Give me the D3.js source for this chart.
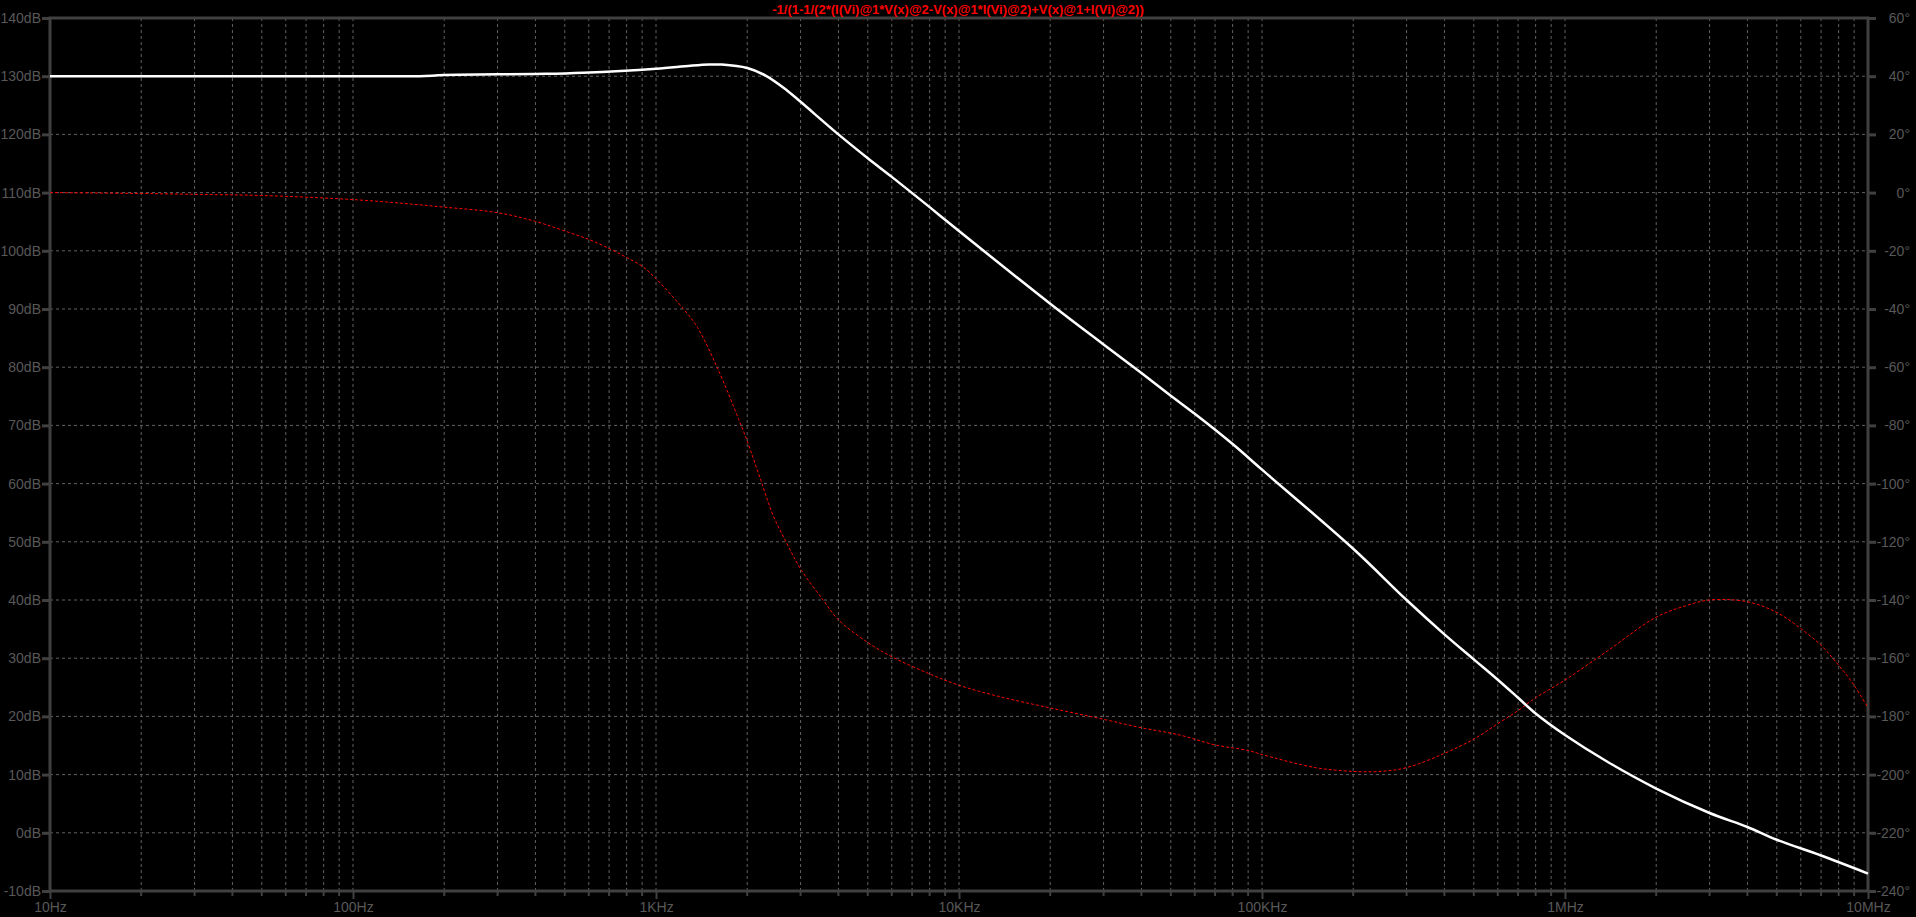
<!DOCTYPE html>
<html>
<head>
<meta charset="utf-8">
<script src="https://cdn.jsdelivr.net/npm/d3@7"></script>
<style>
  html, body { margin: 0; padding: 0; background: #000; overflow: hidden; }
  text { font-family: "Liberation Sans", Arial, sans-serif; }
</style>
</head>
<body>
<div id="bode"></div>
<script>
// trace title (LTspice expression)
var title = "-1/(1-1/(2*(I(Vi)@1*V(x)@2-V(x)@1*I(Vi)@2)+V(x)@1+I(Vi)@2))";

// magnitude trace
var magFreq = [10, 100, 166, 200, 430, 575, 1000, 1300, 1500, 1650, 2000, 2300, 2700, 3000,
  4000, 5000, 6000, 8000, 10000, 20000, 30000, 40000, 50000, 60000, 80000, 100000,
  200000, 300000, 400000, 500000, 600000, 700000, 800000, 1000000, 1380000, 2000000,
  3000000, 4000000, 5000000, 7000000, 10000000];
var magDb = [130, 130, 130, 130.2, 130.4, 130.6, 131.3, 131.8, 132.0, 132.0, 131.4, 130.1, 127.6, 125.6,
  120.0, 115.9, 112.7, 107.5, 103.4, 90.9, 83.9, 79.0, 75.1, 72.0, 66.8, 62.4,
  48.8, 40.0, 34.1, 29.8, 26.3, 23.2, 20.5, 16.8, 12.2, 7.6,
  3.4, 1.0, -1.2, -3.9, -7.0];

// phase trace
var phaseFreq = [10, 20, 30, 50, 100, 166, 200, 300, 400, 500, 600, 700, 800, 900, 1000,
  1230, 1370, 1600, 1870, 2000, 2220, 2430, 2700, 3000, 3560, 4000, 5000, 6000, 8000,
  10000, 13600, 20000, 30000, 40000, 53500, 70000, 90000, 100000, 150000, 200000, 245000,
  300000, 400000, 500000, 600000, 700000, 800000, 1000000, 1380000, 2000000, 2500000,
  3000000, 4000000, 5000000, 6000000, 7000000, 8000000, 9000000, 10000000];
var phaseDeg = [0, -0.3, -0.6, -1.0, -2.4, -4.2, -5.0, -6.9, -9.9, -13.2, -16.1, -19.2, -22.3, -25.3, -29.6,
  -39.9, -46.3, -60.6, -77.6, -85.4, -99, -110.7, -120.5, -129.3, -140, -146.8, -154.6, -159.5, -165.4,
  -169.3, -173.2, -177.1, -181, -183.9, -186.4, -189.8, -191.7, -193.1, -197.6, -198.9, -198.9,
  -197.6, -192.7, -187.8, -182.5, -178, -173.6, -167.5, -157.5, -145.9, -142,
  -140, -140.6, -144.3, -149.8, -155.6, -162.4, -169.3, -177.1];

// axis ticks
var dbTicks = [-10, 0, 10, 20, 30, 40, 50, 60, 70, 80, 90, 100, 110, 120, 130, 140];
var degTicks = [-240, -220, -200, -180, -160, -140, -120, -100, -80, -60, -40, -20, 0, 20, 40, 60];
var freqTicks = [10, 100, 1000, 10000, 100000, 1000000, 10000000];
var freqLabels = ["10Hz", "100Hz", "1KHz", "10KHz", "100KHz", "1MHz", "10MHz"];

var W = 1916, H = 917;
var margin = { top: 18, right: 48, bottom: 26, left: 50 };
var width = W - margin.left - margin.right,
    height = H - margin.top - margin.bottom;

var axisCol = "#404040", textCol = "#585858", gridCol = "#626262";

var svg = d3.select("#bode").append("svg")
  .attr("width", W).attr("height", H)
  .style("background", "#000")
  .style("display", "block");

var g = svg.append("g").attr("transform", "translate(" + margin.left + "," + margin.top + ")");

var x = d3.scaleLog().domain([10, 1e7]).range([0, width]);
var yDb = d3.scaleLinear().domain([-10, 140]).range([height, 0]);
var yDeg = d3.scaleLinear().domain([-240, 60]).range([height, 0]);

// minor freq lines 1..9 per decade
var minorFreqs = [];
freqTicks.forEach(function (f) {
  for (var k = 1; k < 10; k++) {
    if (f * k <= 1e7) minorFreqs.push(f * k);
  }
});

// vertical grid
g.append("g").selectAll("line")
  .data(minorFreqs.filter(function (f) { return f > 10 && f < 1e7; }))
  .enter().append("line")
  .attr("x1", function (d) { return x(d); }).attr("x2", function (d) { return x(d); })
  .attr("y1", 0).attr("y2", height)
  .attr("stroke", gridCol).attr("stroke-width", 1).attr("stroke-dasharray", "3,3");

// horizontal grid
g.append("g").selectAll("line")
  .data(dbTicks.filter(function (d) { return d > -10 && d < 140; }))
  .enter().append("line")
  .attr("x1", 0).attr("x2", width)
  .attr("y1", function (d) { return yDb(d); }).attr("y2", function (d) { return yDb(d); })
  .attr("stroke", gridCol).attr("stroke-width", 1).attr("stroke-dasharray", "3,3");

// left axis (dB)
var leftAxis = g.append("g")
  .call(d3.axisLeft(yDb).tickValues(dbTicks).tickSize(8).tickPadding(1)
    .tickFormat(function (d) { return d + "dB"; }));

// right axis (degrees)
var rightAxis = g.append("g").attr("transform", "translate(" + width + ",0)")
  .call(d3.axisRight(yDeg).tickValues(degTicks).tickSize(8).tickPadding(0)
    .tickFormat(function (d) { return d + "°"; }));

// bottom axis: decades labelled, minors as short stubs
var bottomAxis = g.append("g").attr("transform", "translate(0," + height + ")")
  .call(d3.axisBottom(x).tickValues(freqTicks).tickSize(8).tickPadding(3)
    .tickFormat(function (d, i) { return freqLabels[i]; }));

g.append("g").attr("transform", "translate(0," + height + ")")
  .selectAll("line")
  .data(minorFreqs.filter(function (f) { return freqTicks.indexOf(f) < 0; }))
  .enter().append("line")
  .attr("x1", function (d) { return x(d); }).attr("x2", function (d) { return x(d); })
  .attr("y1", 0).attr("y2", 5)
  .attr("stroke", axisCol).attr("stroke-width", 2);

[leftAxis, rightAxis, bottomAxis].forEach(function (a) {
  a.select(".domain").remove();
  a.selectAll(".tick line").attr("stroke", axisCol).attr("stroke-width", 3);
  a.selectAll(".tick text").attr("fill", textCol).style("font-size", "14px");
});
rightAxis.selectAll(".tick text").attr("text-anchor", "end").attr("x", 42);
bottomAxis.selectAll(".tick line").attr("stroke-width", 2);

// frame
g.append("rect")
  .attr("x", 0).attr("y", 0).attr("width", width).attr("height", height)
  .attr("fill", "none").attr("stroke", axisCol).attr("stroke-width", 3);

// phase trace (dotted red)
var phaseLine = d3.line()
  .x(function (d) { return x(d[0]); })
  .y(function (d) { return yDeg(d[1]); })
  .curve(d3.curveCatmullRom.alpha(0.5));

g.append("path")
  .datum(phaseFreq.map(function (f, i) { return [f, phaseDeg[i]]; }))
  .attr("d", phaseLine)
  .attr("fill", "none").attr("stroke", "#ff0000").attr("stroke-width", 1)
  .attr("stroke-dasharray", "3,2");

// magnitude trace (solid white)
var magLine = d3.line()
  .x(function (d) { return x(d[0]); })
  .y(function (d) { return yDb(d[1]); })
  .curve(d3.curveCatmullRom.alpha(0.5));

g.append("path")
  .datum(magFreq.map(function (f, i) { return [f, magDb[i]]; }))
  .attr("d", magLine)
  .attr("fill", "none").attr("stroke", "#ffffff").attr("stroke-width", 2.5);

// title
svg.append("text")
  .attr("x", 958).attr("y", 14)
  .attr("text-anchor", "middle")
  .attr("fill", "#ff0000")
  .style("font-size", "13px").style("font-weight", "bold")
  .text(title);
</script>
</body>
</html>
